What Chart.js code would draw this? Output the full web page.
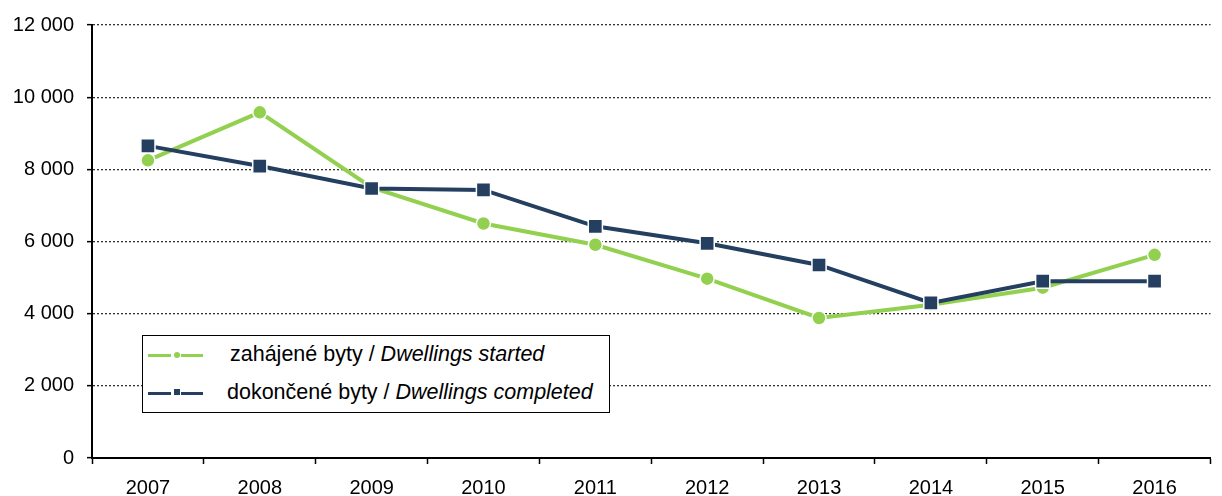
<!DOCTYPE html>
<html>
<head>
<meta charset="utf-8">
<script src="https://cdn.jsdelivr.net/npm/chart.js@4.4.0/dist/chart.umd.min.js"></script>
<style>
  body { margin: 0; background: #fff; }
  #wrap { position: relative; width: 1222px; height: 496px; }
  #legend {
    position: absolute; left: 142px; top: 335px; width: 466px; height: 76px;
    border: 1.5px solid #000; background: #fff;
    font-family: "Liberation Sans", Arial, sans-serif; font-size: 21.5px; color: #000;
  }
  .seg { position: absolute; height: 3px; }
  .lbl { position: absolute; white-space: nowrap; }
</style>
</head>
<body>
<div id="wrap">
  <canvas id="myChart" width="1222" height="496"></canvas>
  <div id="legend">
    <div class="seg" style="left:5px;top:18px;width:23px;background:#92d050"></div>
    <div class="seg" style="left:31px;top:16px;width:6px;height:6px;border-radius:3px;background:#92d050"></div>
    <div class="seg" style="left:38px;top:18px;width:22px;background:#92d050"></div>
    <div class="lbl" style="left:87px;top:6px">zahájené byty / <i>Dwellings started</i></div>

    <div class="seg" style="left:5px;top:56px;width:23px;background:#243f60"></div>
    <div class="seg" style="left:31px;top:53px;width:6px;height:6px;background:#243f60"></div>
    <div class="seg" style="left:38px;top:56px;width:22px;background:#243f60"></div>
    <div class="lbl" style="left:84px;top:44px">dokončené byty / <i>Dwellings completed</i></div>
  </div>
</div>
<script>
let years = ['2007', '2008', '2009', '2010', '2011', '2012', '2013', '2014', '2015', '2016'];
let started = [8250, 9580, 7500, 6500, 5910, 4970, 3880, 4250, 4720, 5630];
let completed = [8650, 8090, 7470, 7430, 6420, 5950, 5350, 4300, 4900, 4900];
let yMin = 0;
let yMax = 12000;
let yStep = 2000;

function fmt(v) {
  return String(v).replace(/\B(?=(\d{3})+(?!\d))/g, ' ');
}

const ctx = document.getElementById('myChart');

new Chart(ctx, {
  type: 'line',
  data: {
    labels: years,
    datasets: [{
      label: 'zahájené byty / Dwellings started',
      data: started,
      borderColor: '#92d050',
      backgroundColor: '#92d050',
      borderWidth: 4,
      pointStyle: 'circle',
      pointRadius: 7,
      pointBorderColor: '#ffffff',
      pointBorderWidth: 1.5,
      pointBackgroundColor: '#92d050',
      order: 1
    }, {
      label: 'dokončené byty / Dwellings completed',
      data: completed,
      borderColor: '#243f60',
      backgroundColor: '#243f60',
      borderWidth: 4,
      pointStyle: 'rect',
      pointRadius: 10,
      pointBorderColor: '#ffffff',
      pointBorderWidth: 1.5,
      pointBackgroundColor: '#243f60',
      order: 0
    }]
  },
  options: {
    responsive: false,
    animation: false,
    layout: { padding: { top: 19, right: 2, left: 0, bottom: 0 } },
    plugins: {
      legend: { display: false },
      tooltip: { enabled: false }
    },
    scales: {
      x: {
        offset: true,
        grid: {
          display: true,
          offset: true,
          drawOnChartArea: false,
          tickLength: 6,
          tickColor: '#000',
          tickWidth: 1.5
        },
        border: { color: '#000', width: 2 },
        ticks: {
          color: '#000',
          padding: 12,
          font: { family: '"Liberation Sans", Arial, sans-serif', size: 20 }
        },
        afterFit: function (scale) { scale.height = 38; }
      },
      y: {
        min: yMin,
        max: yMax,
        grid: {
          color: '#333',
          lineWidth: 1.3,
          tickLength: 5,
          tickColor: '#000',
          tickWidth: 1.5
        },
        border: { color: '#000', width: 2, dash: [2, 2] },
        ticks: {
          stepSize: yStep,
          color: '#000',
          padding: 13,
          font: { family: '"Liberation Sans", Arial, sans-serif', size: 20 },
          callback: function (v) { return fmt(v); }
        },
        afterFit: function (scale) { scale.width = 92; }
      }
    }
  }
});
</script>
</body>
</html>
